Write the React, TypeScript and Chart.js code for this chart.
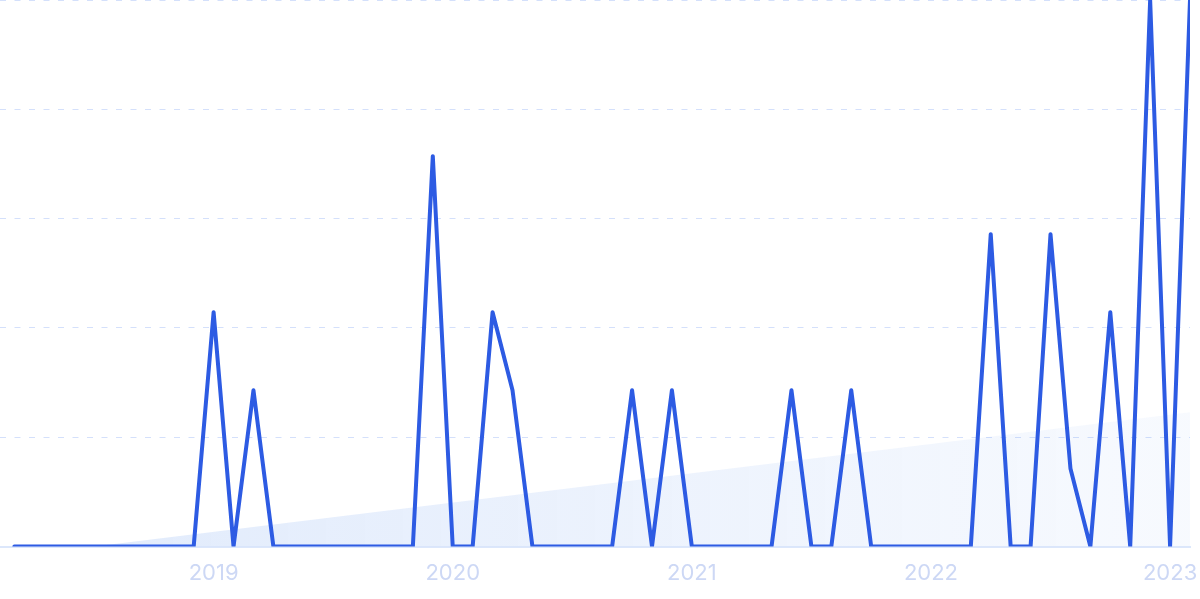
import React, { useEffect, useRef } from "react";
import { Chart, registerables } from "chart.js";

Chart.register(...registerables);

// Monthly observations, Mar 2018 – Feb 2023
const months: string[] = [
  "2018-03", "2018-04", "2018-05", "2018-06", "2018-07", "2018-08", "2018-09", "2018-10", "2018-11", "2018-12",
  "2019-01", "2019-02", "2019-03", "2019-04", "2019-05", "2019-06", "2019-07", "2019-08", "2019-09", "2019-10", "2019-11", "2019-12",
  "2020-01", "2020-02", "2020-03", "2020-04", "2020-05", "2020-06", "2020-07", "2020-08", "2020-09", "2020-10", "2020-11", "2020-12",
  "2021-01", "2021-02", "2021-03", "2021-04", "2021-05", "2021-06", "2021-07", "2021-08", "2021-09", "2021-10", "2021-11", "2021-12",
  "2022-01", "2022-02", "2022-03", "2022-04", "2022-05", "2022-06", "2022-07", "2022-08", "2022-09", "2022-10", "2022-11", "2022-12",
  "2023-01", "2023-02",
];

const values: number[] = [
  0, 0, 0, 0, 0, 0, 0, 0, 0, 0,
  3, 0, 2, 0, 0, 0, 0, 0, 0, 0, 0, 5,
  0, 0, 3, 2, 0, 0, 0, 0, 0, 2, 0, 2,
  0, 0, 0, 0, 0, 2, 0, 0, 2, 0, 0, 0,
  0, 0, 0, 4, 0, 0, 4, 1, 0, 3, 0, 7,
  0, 7,
];

// Trend area (start / end of the shaded wedge)
const trendMonths: string[] = ["2018-07", "2023-02"];
const trendValues: number[] = [0, 1.72];

// Axis ticks
const yTicks: number[] = [0, 1.4, 2.8, 4.2, 5.6, 7];
const xTickMonths: string[] = ["2019-01", "2020-01", "2021-01", "2022-01", "2023-01"];
const xTickLabels: string[] = ["2019", "2020", "2021", "2022", "2023"];

const idx = (m: string) => months.indexOf(m);

export default function App() {
  const ref = useRef<HTMLCanvasElement | null>(null);

  useEffect(() => {
    if (!ref.current) return;
    const lineData = values.map((v, i) => ({ x: i, y: v }));
    const trendData = trendMonths.map((m, i) => ({ x: idx(m), y: trendValues[i] }));
    const tickPos = xTickMonths.map(idx);

    const chart = new Chart(ref.current, {
      type: "line",
      data: {
        datasets: [
          {
            data: lineData,
            borderColor: "#2d5be3",
            borderWidth: 4,
            borderJoinStyle: "round",
            borderCapStyle: "round",
            pointRadius: 0,
            tension: 0,
            fill: false,
            order: 0,
          },
          {
            data: trendData,
            borderWidth: 0,
            borderColor: "rgba(0,0,0,0)",
            pointRadius: 0,
            tension: 0,
            fill: "origin",
            order: 1,
            backgroundColor: (ctx: any) => {
              const area = ctx.chart.chartArea;
              if (!area) return "rgba(60,120,230,0.1)";
              const g = ctx.chart.ctx.createLinearGradient(area.left, 0, area.right, 0);
              g.addColorStop(0, "rgba(60,125,235,0.16)");
              g.addColorStop(1, "rgba(60,125,235,0.04)");
              return g;
            },
          },
        ],
      },
      options: {
        animation: false,
        responsive: true,
        maintainAspectRatio: false,
        layout: { padding: { left: 0, right: 10, top: 0, bottom: 0 } },
        plugins: { legend: { display: false }, tooltip: { enabled: false } },
        scales: {
          x: {
            type: "linear",
            min: -0.72,
            max: months.length - 1,
            afterBuildTicks: (scale: any) => {
              scale.ticks = tickPos.map((v) => ({ value: v }));
            },
            afterFit: (scale: any) => {
              scale.height = 52.5;
              scale.paddingLeft = 0;
              scale.paddingRight = 0;
              scale.paddingTop = 0;
              scale.paddingBottom = 0;
            },
            ticks: {
              autoSkip: false,
              maxRotation: 0,
              padding: 14,
              color: "#cdd8f5",
              font: { family: "Inter", size: 22 },
              callback: (v: any) => {
                const k = tickPos.indexOf(Number(v));
                return k >= 0 ? xTickLabels[k] : "";
              },
            },
            grid: { display: false, drawTicks: false },
            border: { display: true, color: "#dce7fb", width: 2 },
          },
          y: {
            min: 0,
            max: 7,
            afterBuildTicks: (scale: any) => {
              scale.ticks = yTicks.map((v) => ({ value: v }));
            },
            afterFit: (scale: any) => {
              scale.width = 0;
            },
            ticks: { display: false },
            grid: {
              drawTicks: false,
              color: (c: any) => (c.tick && c.tick.value === 0 ? "rgba(0,0,0,0)" : "#d4e0fb"),
              lineWidth: 1,
            },
            border: { display: false, dash: [6, 8.5] },
          },
        },
      },
    });
    return () => chart.destroy();
  }, []);

  return (
    <div style={{ position: "absolute", left: 0, top: 0, width: 1200, height: 599, background: "#fff" }}>
      <canvas ref={ref} />
    </div>
  );
}
